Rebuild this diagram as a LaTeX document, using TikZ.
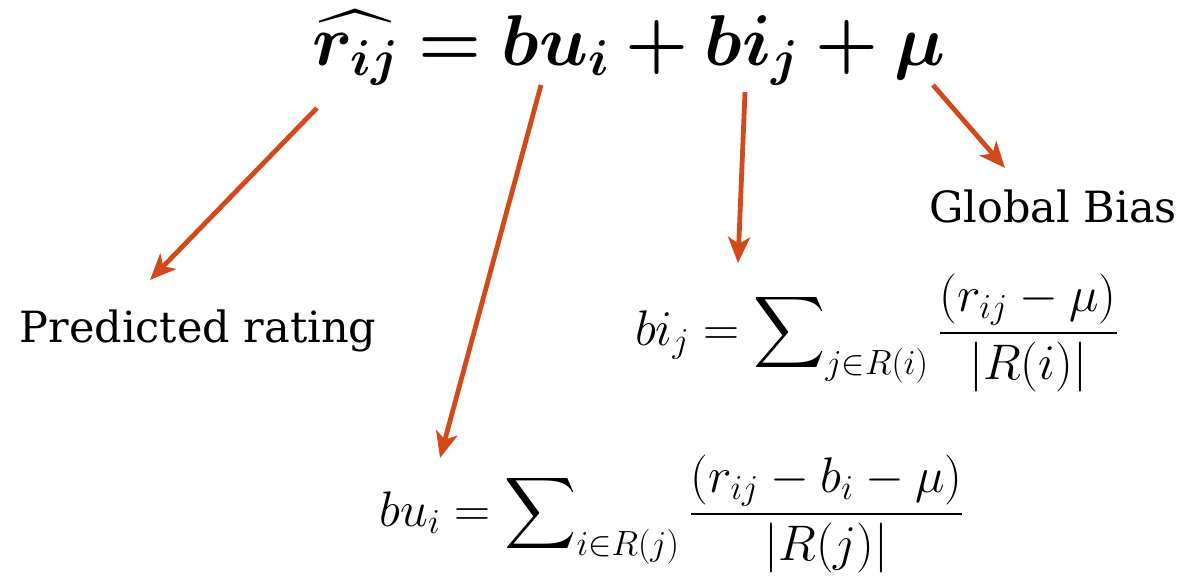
\RequirePackage{fix-cm}
\documentclass[tikz,border=0pt]{standalone}
\usepackage{amsmath, amssymb, bm}
\usepackage[no-math]{fontspec}
\newfontfamily\slabfont{DejaVu Serif}
\usetikzlibrary{positioning, arrows.meta}
\definecolor{burnt}{RGB}{210, 74, 28}
\newcommand{\modeleq}{$\bm{\widehat{r_{ij}}} \bm{=} \bm{bu_i} \bm{+} \bm{bi_j} \bm{+} \bm{\mu}$}

\begin{document}
\begin{tikzpicture}[x=0.5pt, y=-0.5pt,
      lbl/.style={inner sep=0pt, anchor=base, font=\slabfont\fontsize{21.5}{26}\selectfont},
      eq/.style={inner sep=0pt, anchor=base, font=\fontsize{25}{30}\selectfont},
      big/.style={inner sep=0pt, anchor=base, font=\fontsize{36}{44}\selectfont},
      arr/.style={-{Stealth[length=13pt, width=11pt, inset=3.5pt]}, line width=2.4pt, color=burnt}]
    \node[big] (model) at (629,65) {\modeleq};
    \node[lbl] (pred) at (198,342) {Predicted rating};
    \node[lbl] (glob) at (1053,222) {Global Bias};
    \node[eq] (bieq) at (877,345) {$\displaystyle bi_j = \sum\nolimits_{j\in R(i)} \frac{(r_{ij}-\mu)}{|R(i)|}$};
    \node[eq] (bueq) at (672,526) {$\displaystyle bu_i = \sum\nolimits_{i\in R(j)} \frac{(r_{ij}-b_i-\mu)}{|R(j)|}$};
    % arrow ends
    \coordinate (rs) at (317,108); \coordinate (re) at (150,280);
    \coordinate (us) at (541,85);  \coordinate (ue) at (440,458);
    \coordinate (is) at (745,92);  \coordinate (ie) at (738,263);
    \coordinate (ms) at (933,85);  \coordinate (me) at (1005,168);
    \draw[arr] (rs) -- (re); \draw[arr] (us) -- (ue); \draw[arr] (is) -- (ie); \draw[arr] (ms) -- (me);
    \useasboundingbox (0,0) rectangle (1184,578);
  \end{tikzpicture}
\end{document}
